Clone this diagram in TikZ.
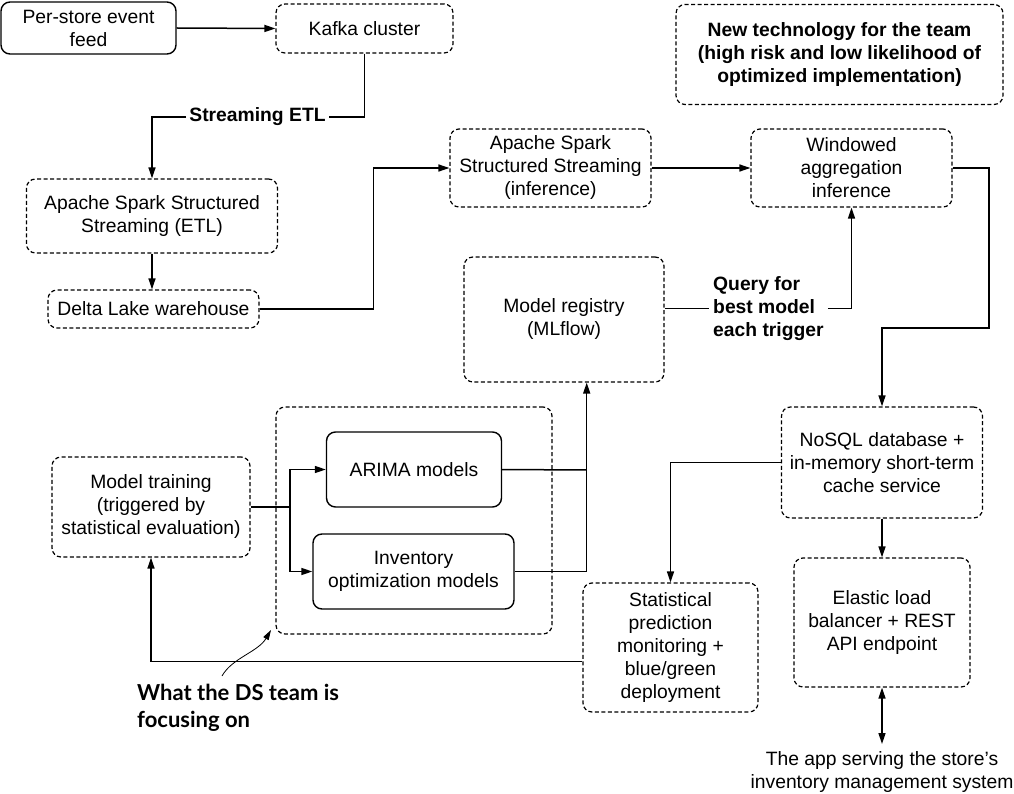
\documentclass[tikz,border=0pt]{standalone}
\usepackage{fontspec}
\setmainfont{Liberation Sans}
\newfontfamily\gillfont{Lato}
\usetikzlibrary{arrows.meta,calc}
\begin{document}
\begin{tikzpicture}[x=1pt,y=-1pt,
  every node/.style={font=\fontsize{19.3}{23}\selectfont, align=center, inner sep=0pt},
  box/.style={draw, rounded corners=9pt, line width=1.2pt, dash pattern=on 4pt off 2.5pt},
  solidbox/.style={draw, rounded corners=9pt, line width=1.4pt},
  conn/.style={line width=1.5pt, -{Triangle[length=11pt,width=7pt]}},
  dconn/.style={line width=1.5pt, {Triangle[length=11pt,width=7pt]}-{Triangle[length=11pt,width=7pt]}},
  plain/.style={line width=1.5pt},
  lbl/.style={font=\bfseries\fontsize{19.3}{23}\selectfont}
]
\useasboundingbox (0,0) rectangle (1014,794);

% nodes
\node[solidbox, minimum width=175pt, minimum height=52pt] (feed) at (88.5,28) {Per-store event\\feed};
\node[box, minimum width=177pt, minimum height=49pt] (kafka) at (364.5,28.5) {Kafka cluster};
\node[lbl, inner xsep=3pt] (etllabel) at (257.5,117) {Streaming ETL};
\node[box, minimum width=251pt, minimum height=74pt] (etl) at (152,216) {Apache Spark Structured\\Streaming (ETL)};
\node[box, minimum width=211pt, minimum height=38pt] (delta) at (153.5,309) {Delta Lake warehouse};
\node[box, minimum width=201pt, minimum height=78pt] (sparkinf) at (550.5,168) {Apache Spark\\Structured Streaming\\(inference)};
\node[box, minimum width=201pt, minimum height=78pt] (window) at (851.5,168) {Windowed\\aggregation\\inference};
\node[box, minimum width=327pt, minimum height=100pt, lbl] (newtech) at (839.5,54.5) {New technology for the team\\(high risk and low likelihood of\\optimized implementation)};
\node[box, minimum width=200pt, minimum height=125pt] (registry) at (564,319.5) {Model registry\\(MLflow)};
\node[lbl, align=left, anchor=west, inner xsep=4pt] (query) at (709,308.5) {Query for\\best model\\each trigger};
\node[box, minimum width=201pt, minimum height=111pt] (nosql) at (882,462.5) {NoSQL database +\\in-memory short-term\\cache service};
\node[box, minimum width=198pt, minimum height=100pt] (training) at (151,507) {Model training\\(triggered by\\statistical evaluation)};
\node[box, minimum width=276pt, minimum height=227pt] (focus) at (414,520.5) {};
\node[solidbox, minimum width=175pt, minimum height=75pt] (arima) at (414,469.5) {ARIMA models};
\node[solidbox, minimum width=201pt, minimum height=75pt] (inventory) at (413.5,571.5) {Inventory\\optimization models};
\node[box, minimum width=175pt, minimum height=129pt] (stat) at (670.5,647.5) {Statistical\\prediction\\monitoring +\\blue/green\\deployment};
\node[box, minimum width=176pt, minimum height=129pt] (elastic) at (882,622.5) {Elastic load\\balancer + REST\\API endpoint};
\node[anchor=north, inner ysep=7pt] (app) at (882,744) {The app serving the store’s\\inventory management system};
\node[font=\gillfont\bfseries\fontsize{22}{27}\selectfont, align=left, anchor=north west] (ds) at (137,684) {What the DS team is\\focusing on};

% coordinates
\coordinate (split) at (290,507);
\coordinate (merge) at (586.7,470);
\coordinate (wturn) at (989,328);
\coordinate (dsfrom) at (222,676);
\coordinate (dsto) at (271,630);

% connectors
\draw[conn] (feed.east) -- (kafka.west);
\draw[plain] (kafka.south) |- (etllabel.east);
\draw[conn] (etllabel.west) -| (etl.north);
\draw[conn] (etl.south) -- (etl.south |- delta.north);
\draw[conn] (delta.east) -- ++(114,0) |- (sparkinf.west);
\draw[conn] (sparkinf.east) -- (window.west);
\draw[conn] (window.east) -| (wturn) -| (nosql.north);
\draw[plain] (query.west -| registry.east) -- (query.west);
\draw[conn] (query.east) -| (window.south);
\draw[plain] (training.east) -- (split);
\draw[conn] (split) |- (arima.west);
\draw[conn] (split) |- (inventory.west);
\draw[plain] (arima.east) -- (merge);
\draw[conn] (inventory.east) -| (merge |- registry.south);
\draw[conn] (nosql.west) -| (stat.north);
\draw[conn] (nosql.south) -- (elastic.north);
\draw[dconn] (elastic.south) -- (app.north);
\draw[conn] ($(stat.west)+(0,14)$) -| (training.south);
\draw[line width=0.8pt, -{Triangle[length=10pt,width=6pt]}] (dsfrom) .. controls (232,658) and (258,652) .. (dsto);
\end{tikzpicture}
\end{document}
